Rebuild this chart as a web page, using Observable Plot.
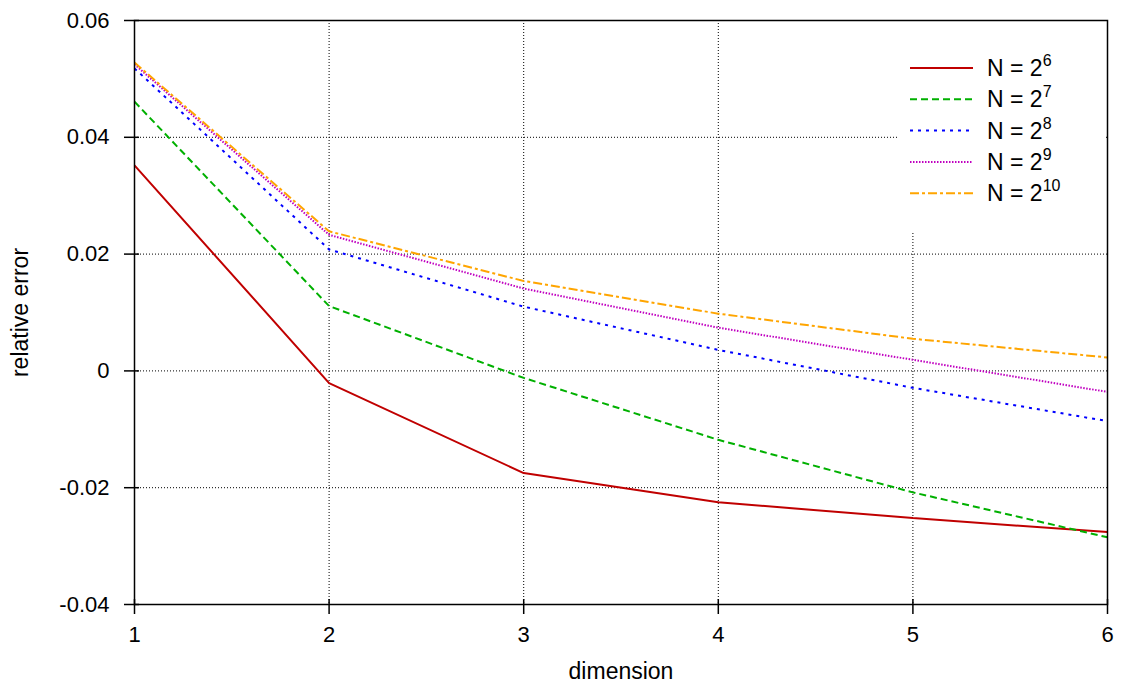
<!DOCTYPE html>
<html>
<head>
<meta charset="utf-8">
<script src="https://cdn.jsdelivr.net/npm/d3@7"></script>
<script src="https://cdn.jsdelivr.net/npm/@observablehq/plot@0.6"></script>
<style>
  body { margin: 0; background: #fff; }
  svg { display: block; }
</style>
</head>
<body>
<div id="chart"></div>
<script>
// ---- data ----
const dimensions = [1, 2, 3, 4, 5, 6];
const seriesNames = ["N = 2^6", "N = 2^7", "N = 2^8", "N = 2^9", "N = 2^10"];
const exponents = ["6", "7", "8", "9", "10"];
const n6  = [0.0352, -0.0021, -0.0175, -0.0225, -0.0252, -0.0276];
const n7  = [0.0461,  0.0111, -0.0012, -0.0118, -0.0208, -0.0285];
const n8  = [0.0518,  0.0208,  0.0110,  0.0036, -0.0029, -0.0086];
const n9  = [0.0525,  0.0233,  0.0141,  0.0074,  0.0019, -0.0036];
const n10 = [0.0528,  0.0239,  0.0154,  0.0098,  0.0055,  0.0023];
const xTicks = [1, 2, 3, 4, 5, 6];
const yTicks = [-0.04, -0.02, 0, 0.02, 0.04, 0.06];

const colors = ["#c00000", "#00b000", "#0000ff", "#c000c0", "#ffa500"];
const dashes = [null, "7,4", "3,5", "1.5,1.5", "9,3,3,3"];
const allSeries = [n6, n7, n8, n9, n10];

const rows = [];
allSeries.forEach((vals, s) => vals.forEach((v, i) => rows.push({series: seriesNames[s], s, x: dimensions[i], y: v})));

const font = "'Liberation Sans', Arial, Helvetica, sans-serif";
const W = 1124, H = 686;
const mL = 134, mR = 17, mT = 20, mB = 82;

const lineMarks = allSeries.map((vals, s) =>
  Plot.line(rows.filter(r => r.s === s), {
    x: "x", y: "y", stroke: colors[s], strokeWidth: 2,
    strokeDasharray: dashes[s] || undefined, strokeLinejoin: "miter", strokeLinecap: "butt"
  })
);

const chart = Plot.plot({
  width: W, height: H,
  marginLeft: mL, marginRight: mR, marginTop: mT, marginBottom: mB,
  style: {fontFamily: font, fontSize: "22px", color: "#000", background: "#fff"},
  x: {domain: [1, 6]},
  y: {domain: [-0.04, 0.06]},
  marks: [
    Plot.gridX(xTicks.slice(1, -1), {stroke: "#000", strokeOpacity: 1, strokeWidth: 1, strokeDasharray: "1,2"}),
    Plot.gridY(yTicks.slice(1, -1), {stroke: "#000", strokeOpacity: 1, strokeWidth: 1, strokeDasharray: "1,2"}),
    ...lineMarks,
    Plot.axisX(xTicks, {tickSize: 10, tickPadding: 12, tickFormat: d => String(d), label: null, strokeWidth: 1.5, fontSize: 22}),
    Plot.axisY(yTicks, {tickSize: 10, tickPadding: 15, tickFormat: d => d === 0 ? "0" : d.toFixed(2), label: null, strokeWidth: 1.5, fontSize: 22}),
    Plot.ruleX(xTicks, {x: d => d, y1: -0.04, y2: -0.04, insetTop: -5, stroke: "#000", strokeWidth: 1.5}),
    Plot.ruleY(yTicks, {y: d => d, x1: 1, x2: 1, insetRight: -5, stroke: "#000", strokeWidth: 1.5}),
    Plot.frame({stroke: "#000", strokeWidth: 1.5}),
    Plot.text(["dimension"], {frameAnchor: "bottom", dy: 67, lineAnchor: "middle", textAnchor: "middle", fontSize: 23, fill: "#000"}),
    Plot.text(["relative error"], {frameAnchor: "left", dx: -114, rotate: -90, lineAnchor: "middle", textAnchor: "middle", fontSize: 23, fill: "#000"})
  ]
});

// ---- legend (drawn inside the svg, top-right of frame) ----
const svg = d3.select(chart);
const lg = svg.append("g").attr("font-family", font).attr("text-anchor", "start");
const frameRight = W - mR;
const boxX = 897, boxY = mT + 1;
lg.append("rect").attr("x", boxX).attr("y", boxY)
  .attr("width", frameRight - 1 - boxX).attr("height", 232 - boxY).attr("fill", "#fff");
seriesNames.forEach((name, s) => {
  const y = 68 + s * 31.3;
  const ln = lg.append("line").attr("x1", 910).attr("x2", 973).attr("y1", y).attr("y2", y)
    .attr("stroke", colors[s]).attr("stroke-width", 2);
  if (dashes[s]) ln.attr("stroke-dasharray", dashes[s]);
  const t = lg.append("text").attr("x", 987).attr("y", y + 8).attr("font-size", 23)
    .attr("fill", "#000").attr("text-anchor", "start");
  t.append("tspan").text("N = 2");
  t.append("tspan").attr("font-size", 16).attr("dy", -10).text(exponents[s]);
});
// keep frame on top of the legend box
const frameNode = svg.select("g[aria-label=frame]").node() || svg.select("[aria-label=frame]").node();
if (frameNode) svg.node().appendChild(frameNode);

document.getElementById("chart").appendChild(chart);
</script>
</body>
</html>
